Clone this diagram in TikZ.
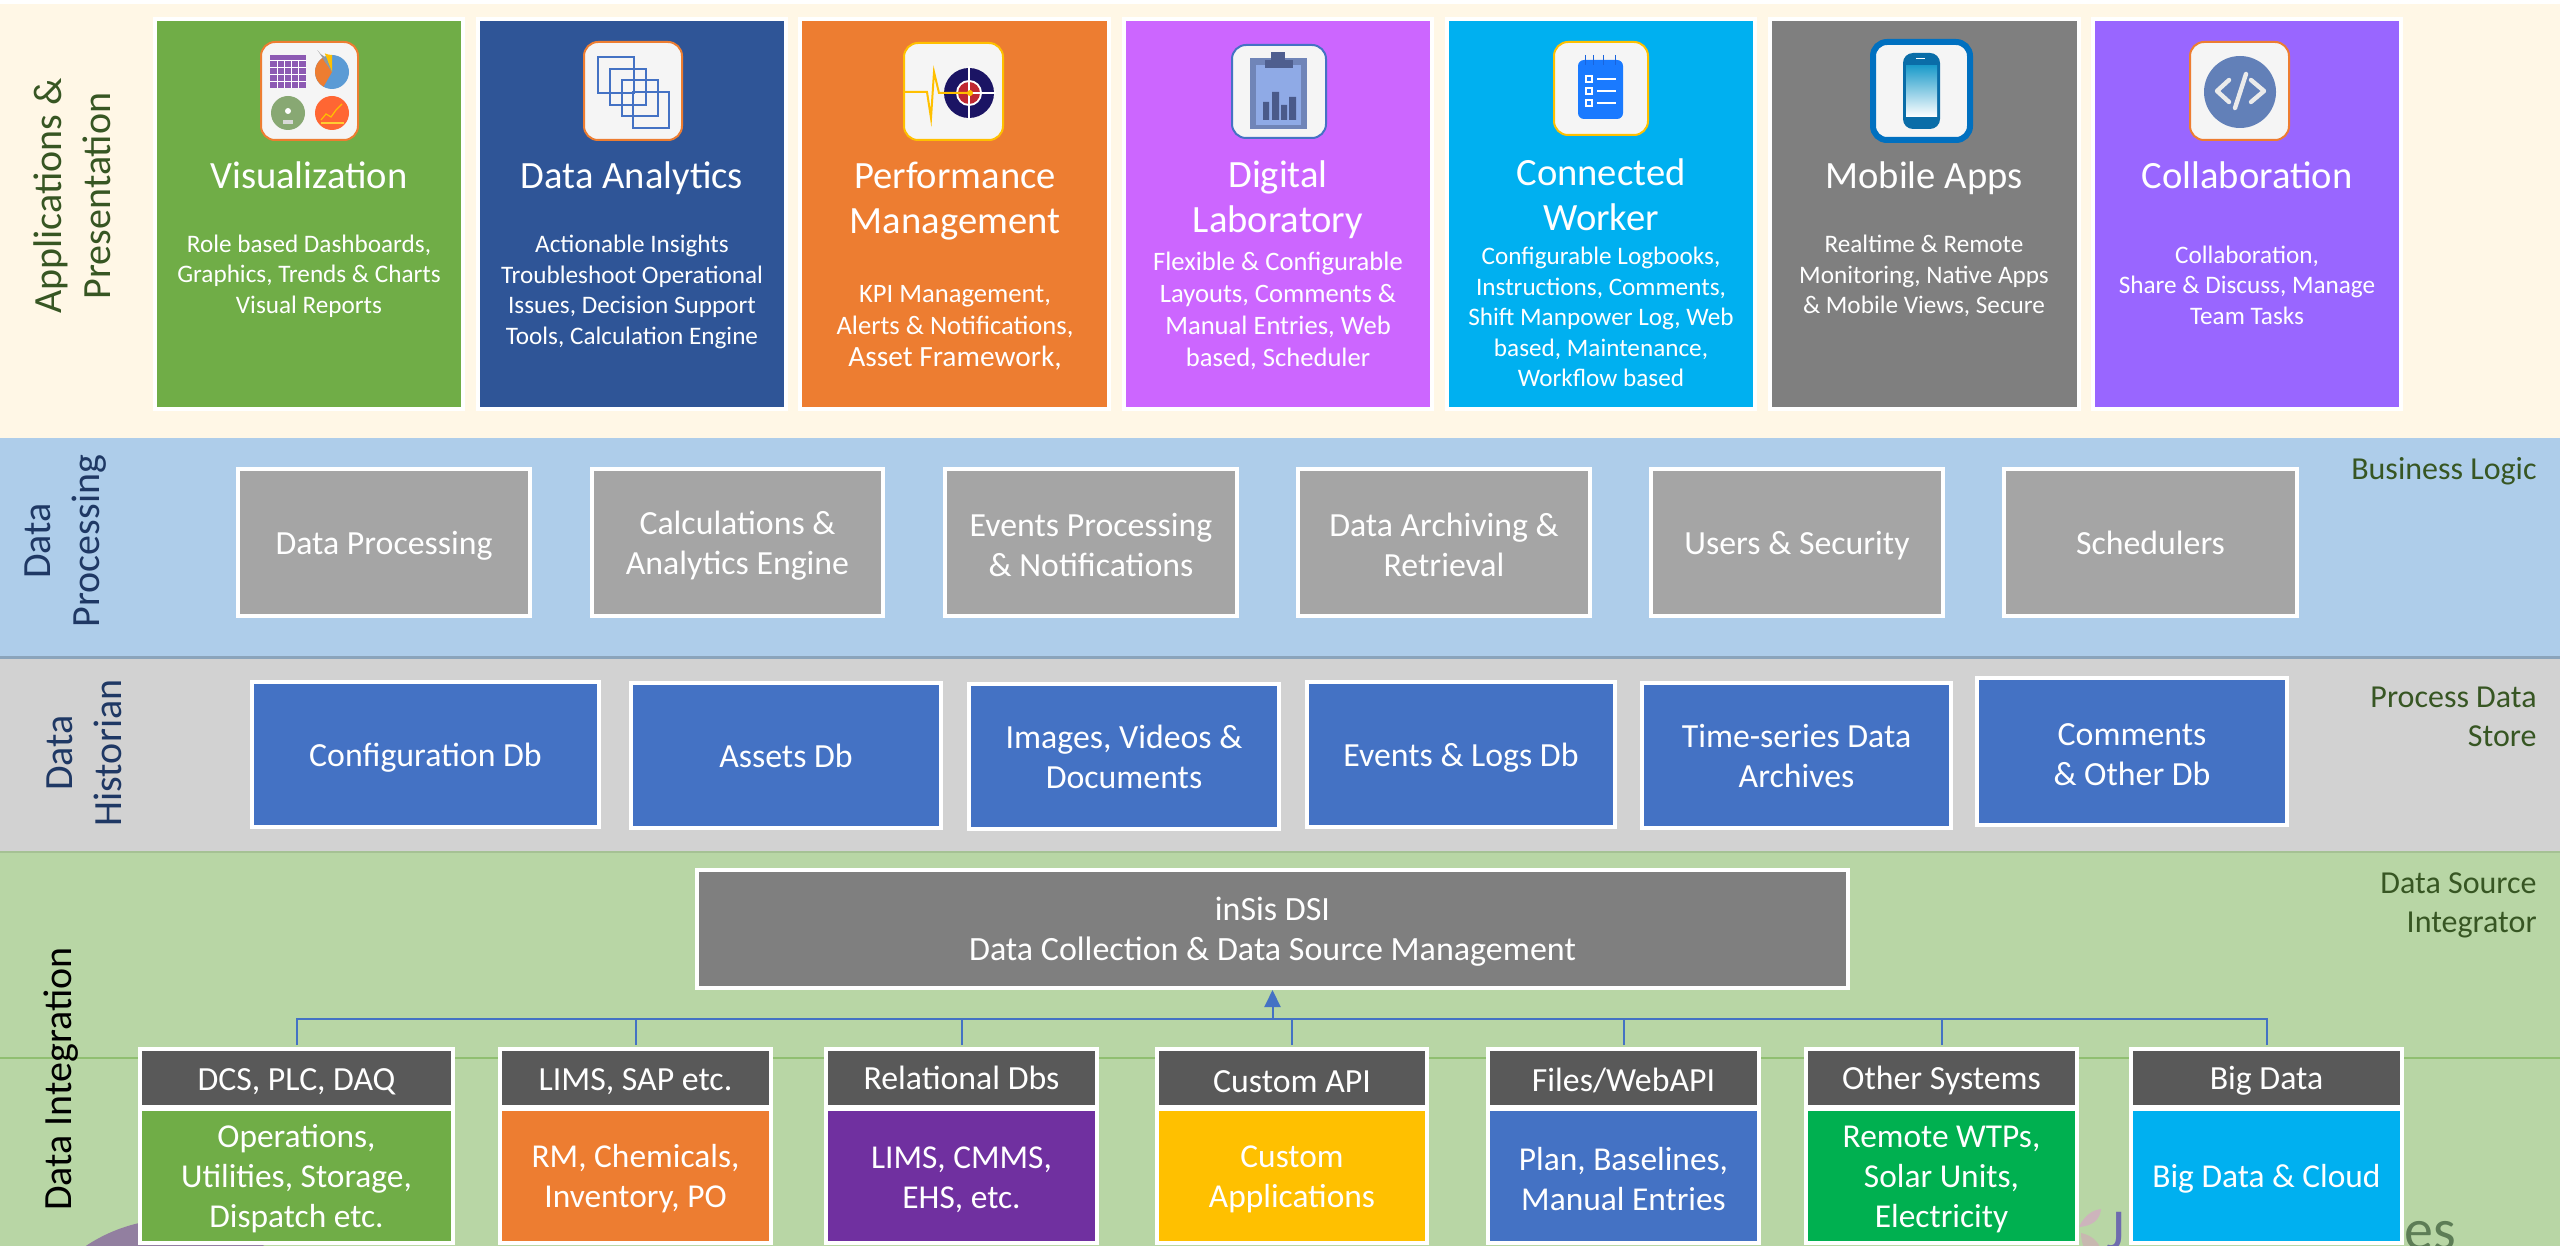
\documentclass[tikz,border=0pt]{standalone}
\usepackage{fontspec}
\setmainfont{Carlito}
\usetikzlibrary{arrows.meta}
\definecolor{cream}{HTML}{FFF7E6}
\definecolor{bandblue}{HTML}{AECDEA}
\definecolor{bandgray}{HTML}{D2D2D2}
\definecolor{bandgreen}{HTML}{B8D6A5}
\definecolor{hdrgray}{HTML}{595959}
\definecolor{procgray}{HTML}{A5A5A5}
\definecolor{dsigray}{HTML}{7F7F7F}
\definecolor{dbblue}{HTML}{4472C4}
\definecolor{lblgreen}{HTML}{375623}
\definecolor{lblnavy}{HTML}{1F3864}
\definecolor{cardA}{HTML}{70AD47}
\definecolor{cardB}{HTML}{2F5597}
\definecolor{cardC}{HTML}{ED7D31}
\definecolor{cardD}{HTML}{CC66FF}
\definecolor{cardE}{HTML}{00B0F0}
\definecolor{cardF}{HTML}{7F7F7F}
\definecolor{cardG}{HTML}{9966FF}
\definecolor{srcC}{HTML}{7030A0}
\definecolor{srcD}{HTML}{FFC000}
\definecolor{srcF}{HTML}{00B050}
\definecolor{navyring}{RGB}{27,20,100}
\definecolor{phoneblue}{RGB}{0,112,192}
\definecolor{blobpurple}{RGB}{146,127,160}
\definecolor{petalA}{RGB}{205,180,188}
\definecolor{petalB}{RGB}{200,184,176}
\definecolor{logoJc}{RGB}{110,107,174}
\definecolor{logoEc}{RGB}{93,125,86}
\definecolor{pieblue}{RGB}{91,155,213}
\definecolor{gaugegreen}{RGB}{136,168,115}
\definecolor{chartorange}{RGB}{255,102,51}
\definecolor{targetred}{RGB}{192,40,50}
\definecolor{clipback}{RGB}{112,133,184}
\definecolor{clippaper}{RGB}{143,170,230}
\definecolor{clipdark}{RGB}{79,95,143}
\definecolor{clipbars}{RGB}{74,90,138}
\definecolor{noteblue}{RGB}{26,122,255}
\definecolor{noteedge}{RGB}{26,100,220}
\definecolor{phonebody}{RGB}{10,109,168}
\definecolor{phonescreen}{RGB}{30,156,203}
\definecolor{codeblue}{RGB}{98,128,184}
\newcommand{\ebox}[7]{%
  \pgfmathsetmacro\cxx{(#3+#5)/2}\pgfmathsetmacro\cyy{(#4+#6)/2}%
  \pgfmathsetmacro\www{(#5-#3)/2}\pgfmathsetmacro\hhh{(#6-#4)/2}%
  \node[#2,minimum width=\www pt,minimum height=\hhh pt] (#1) at (\cxx,\cyy) {#7};}
\newcommand{\lowr}{\rule{0pt}{0.86em}}
\tikzset{
  x=0.5pt,y=-0.5pt,
  framed/.style={rectangle,draw=white,line width=2pt,inner sep=0pt,align=center,text=white,fill=#1},
  cardbox/.style={framed=#1},
  procbox/.style={framed=procgray,font=\fontsize{16.9}{20}\selectfont},
  dbbox/.style={framed=dbblue,font=\fontsize{16.9}{20}\selectfont},
  dsibox/.style={framed=dsigray,font=\fontsize{17}{20}\selectfont},
  hdrbox/.style={framed=hdrgray,font=\fontsize{16.9}{19}\selectfont},
  srcbox/.style={framed=#1,font=\fontsize{16.7}{20}\selectfont},
  cardtitle/.style={inner sep=0pt,align=center,text=white,font=\fontsize{19.3}{22.5}\selectfont},
  cardbody/.style={inner sep=0pt,align=center,text=white,font=\fontsize{12.6}{15.2}\selectfont},
  cardbodyb/.style={inner sep=0pt,align=center,text=white,font=\fontsize{13.3}{16.1}\selectfont},
  iconbox/.style={rectangle,rounded corners=7pt,draw=#1,line width=1pt,fill=white!96!black,inner sep=0pt},
  sidelabel/.style={rotate=90,inner sep=0pt,align=center,font=\fontsize{20}{24.5}\selectfont},
  rightlabel/.style={inner sep=0pt,align=right,anchor=east,text=lblgreen,font=\fontsize{16}{19.5}\selectfont},
  busline/.style={draw=dbblue,line width=1pt},
}
\begin{document}
\begin{tikzpicture}
\useasboundingbox (0,0) rectangle (2560,1246);
\begin{scope}
\clip (0,0) rectangle (2560,1246);
% bands
\fill[white] (0,0) rectangle (2560,4);
\fill[cream] (0,4) rectangle (2560,438);
\fill[bandblue] (0,438) rectangle (2560,657);
\fill[bandgray] (0,657) rectangle (2560,852);
\fill[bandgreen] (0,852) rectangle (2560,1246);
\fill[black!20!bandblue] (0,656) rectangle (2560,659);
\fill[black!10!bandgreen] (0,851) rectangle (2560,853);
\draw[color=cardA!55!bandgreen,line width=0.6pt] (0,1058) -- (2560,1058);
% faded background artwork
\fill[blobpurple] (175,1380) circle[radius=161];
\fill[petalA] (2079,1227) .. controls (2084,1216) and (2092,1210) .. (2101,1209) .. controls (2100,1220) and (2092,1226) .. (2079,1227) -- cycle;
\fill[petalB] (2081,1233) .. controls (2090,1235) and (2098,1240) .. (2101,1250) -- (2085,1250) .. controls (2082,1244) and (2081,1238) .. (2081,1233) -- cycle;
\node[anchor=base west,inner sep=0pt,text=logoJc,font=\fontsize{29}{34}\selectfont] (logoJ) at (2106,1249) {J};
\node[anchor=base west,inner sep=0pt,text=logoEc,font=\fontsize{29}{34}\selectfont] (logoes) at (2404,1249) {es};
\end{scope}

% application cards
\ebox{cA}{cardbox=cardA}{155}{19}{463}{409}{}
\ebox{cB}{cardbox=cardB}{478}{19}{786}{409}{}
\ebox{cC}{cardbox=cardC}{800}{19}{1109}{409}{}
\ebox{cD}{cardbox=cardD}{1124}{19}{1432}{409}{}
\ebox{cE}{cardbox=cardE}{1447}{19}{1755}{409}{}
\ebox{cF}{cardbox=cardF}{1770}{19}{2079}{409}{}
\ebox{cG}{cardbox=cardG}{2093}{19}{2401}{409}{}

% icons
\ebox{iA}{iconbox=cardC}{261}{42}{358}{140}{}
\ebox{iB}{iconbox=cardC}{584}{42}{682}{140}{}
\ebox{iC}{iconbox=srcD}{904}{43}{1003}{140}{}
\ebox{iD}{iconbox=dbblue}{1232}{45}{1326}{138}{}
\ebox{iE}{iconbox=srcD}{1554}{42}{1648}{135}{}
\ebox{iF}{iconbox=phoneblue,line width=3pt}{1873}{42}{1970}{140}{}
\ebox{iG}{iconbox=cardC}{2190}{42}{2289}{140}{}

% icon A
\fill[srcC!80!white] (270,55) rectangle (306,88);
\foreach \gx in {277,284,291,298} \draw[white,line width=0.3pt] (\gx,60) -- (\gx,88);
\foreach \gy in {60,67,74,81} \draw[white,line width=0.3pt] (270,\gy) -- (306,\gy);
\fill[pieblue] (332,72) circle[radius=17];
\fill[cardC] (332,72) -- (315,72) arc[start angle=180,end angle=120,radius=17] -- cycle;
\fill[cardC] (332,72) -- (315,72) arc[start angle=180,end angle=235,radius=17] -- cycle;
\fill[srcD] (332,72) -- (332,55) arc[start angle=90,end angle=115,radius=17] -- cycle;
\fill[cardF!80!white] (332,72) -- (325,57) arc[start angle=115,end angle=150,radius=17] -- cycle;
\fill[gaugegreen] (288,113) circle[radius=17];
\fill[white] (288,111) circle[radius=3];
\fill[white!85!black] (283,120) rectangle (293,124);
\fill[chartorange] (332,113) circle[radius=17];
\draw[srcD,line width=0.6pt] (321,120) -- (326,114) -- (331,117) -- (336,110) -- (342,104);
\fill[srcD!80!white] (321,122) rectangle (344,124);

% icon B
\foreach \xa/\ya in {598/57,610/69,622/80,633/92}
  \draw[dbblue,line width=0.8pt] (\xa,\ya) rectangle +(36,36);

% icon C
\fill[navyring] (969,93) circle[radius=25];
\fill[white] (969,93) circle[radius=13];
\fill[targetred] (969,93) circle[radius=11];
\draw[white,line width=0.6pt] (969,66) -- (969,120) (942,93) -- (996,93);
\draw[srcD,line width=1pt,line join=miter] (905,92) -- (927,92) -- (931,118) -- (934,72) -- (939,93) -- (970,93);
\fill[srcD] (970,93) circle[radius=3];

% icon D
\fill[clipback] (1250,58) rectangle (1307,129);
\fill[clippaper] (1256,65) rectangle (1301,125);
\fill[clipdark] (1265,60) rectangle (1293,68);
\fill[clipdark] (1271,52) rectangle (1285,61);
\fill[clipbars] (1263,102) rectangle (1269,120) (1272,92) rectangle (1279,120) (1281,105) rectangle (1287,120) (1289,97) rectangle (1296,120);

% icon E
\fill[noteblue,rounded corners=3pt] (1578,60) rectangle (1623,119);
\foreach \rx in {1585,1593,1603,1615} \draw[noteedge,line width=0.5pt] (\rx,55) -- (\rx,65);
\foreach \ry in {79,91,103} {
  \draw[white,line width=0.7pt] (1586,\ry-3) rectangle (1592,\ry+3);
  \draw[white,line width=1pt] (1597,\ry) -- (1616,\ry);
}

% icon F
\fill[phonebody,rounded corners=5pt] (1903,53) rectangle (1940,129);
\shade[top color=phonescreen,bottom color=white] (1906,66) rectangle (1937,117);
\draw[white,line width=0.5pt] (1916,59) -- (1925,59);

% icon G
\fill[codeblue] (2240,92) circle[radius=36];
\draw[white!92!black,line width=2.2pt,line cap=round,line join=round] (2229,80) -- (2217,91) -- (2229,102) (2251,80) -- (2264,91) -- (2251,102) (2246,74) -- (2235,108);

% card texts
\node[cardtitle] (tA) at (309,175) {Visualization};
\node[cardtitle] (tB) at (632,178) {Data Analytics};
\node[cardtitle] (tC) at (955,201) {Performance\\Management};
\node[cardtitle] (tD) at (1278,200) {Digital\\Laboratory};
\node[cardtitle] (tE) at (1601,195) {Connected\\Worker};
\node[cardtitle] (tF) at (1924,178) {Mobile Apps};
\node[cardtitle] (tG) at (2247,175) {Collaboration};
\node[cardbody] (bA) at (309,276) {Role based Dashboards,\\Graphics, Trends \& Charts\\Visual Reports};
\node[cardbody] (bB) at (632,292) {Actionable Insights\\Troubleshoot Operational\\Issues, Decision Support\\Tools, Calculation Engine};
\node[cardbodyb] (bC) at (955,328) {KPI Management,\\Alerts \& Notifications,\\{\fontsize{14.7}{16}\selectfont Asset Framework,}};
\node[cardbodyb] (bD) at (1278,311) {Flexible \& Configurable\\Layouts, Comments \&\\Manual Entries, Web\\based, Scheduler};
\node[cardbody] (bE) at (1601,317) {Configurable Logbooks,\\Instructions, Comments,\\Shift Manpower Log, Web\\based, Maintenance,\\Workflow based};
\node[cardbody] (bF) at (1924,276) {Realtime \& Remote\\Monitoring, Native Apps\\\& Mobile Views, Secure};
\node[cardbody] (bG) at (2247,285) {Collaboration,\\Share \& Discuss, Manage\\Team Tasks};

% side labels
\node[sidelabel,text=lblgreen] (lApp) at (72,196) {Applications \&\\Presentation};
\node[sidelabel,text=lblnavy] (lProc) at (66,541) {Data\\Processing};
\node[sidelabel,text=lblnavy] (lHist) at (84,753) {Data\\Historian};
\node[sidelabel,text=black] (lInt) at (61,1079) {Data Integration};

% right labels
\node[rightlabel] (rBL) at (2537,471) {Business Logic};
\node[rightlabel] (rPD) at (2537,717) {Process Data\\Store};
\node[rightlabel] (rDS) at (2537,905) {Data Source\\Integrator};

% processing
\ebox{p1}{procbox}{238}{469}{530}{616}{\lowr Data Processing}
\ebox{p2}{procbox}{592}{469}{883}{616}{\lowr Calculations \&\\Analytics Engine}
\ebox{p3}{procbox}{945}{469}{1237}{616}{\lowr Events Processing\\\& Notifications}
\ebox{p4}{procbox}{1298}{469}{1590}{616}{\lowr Data Archiving \&\\Retrieval}
\ebox{p5}{procbox}{1651}{469}{1943}{616}{\lowr Users \& Security}
\ebox{p6}{procbox}{2004}{469}{2297}{616}{Schedulers}

% historian
\ebox{d1}{dbbox}{252}{682}{599}{827}{\lowr Configuration Db}
\ebox{d2}{dbbox}{631}{683}{941}{828}{Assets Db}
\ebox{d3}{dbbox}{969}{684}{1279}{829}{Images, Videos \&\\Documents}
\ebox{d4}{dbbox}{1307}{682}{1615}{827}{\lowr Events \& Logs Db}
\ebox{d5}{dbbox}{1642}{683}{1951}{828}{Time-series Data\\Archives}
\ebox{d6}{dbbox}{1977}{678}{2287}{825}{\lowr Comments\\\& Other Db}

% integration
\ebox{dsi}{dsibox}{697}{870}{1848}{988}{\lowr inSis DSI\\Data Collection \& Data Source Management}
\ebox{h1}{hdrbox}{140}{1049}{453}{1107}{\lowr DCS, PLC, DAQ}
\ebox{h2}{hdrbox}{500}{1049}{771}{1107}{\lowr LIMS, SAP etc.}
\ebox{h3}{hdrbox}{826}{1049}{1097}{1107}{Relational Dbs}
\ebox{h4}{hdrbox}{1157}{1049}{1427}{1107}{\lowr Custom API}
\ebox{h5}{hdrbox}{1488}{1049}{1759}{1107}{\lowr Files/WebAPI}
\ebox{h6}{hdrbox}{1806}{1049}{2077}{1107}{\lowr Other Systems}
\ebox{h7}{hdrbox}{2131}{1049}{2402}{1107}{\lowr Big Data}
\ebox{s1}{srcbox=cardA}{140}{1109}{453}{1243}{\lowr Operations,\\Utilities, Storage,\\Dispatch etc.}
\ebox{s2}{srcbox=cardC}{500}{1109}{771}{1243}{\lowr RM, Chemicals,\\Inventory, PO}
\ebox{s3}{srcbox=srcC}{826}{1109}{1097}{1243}{\lowr LIMS, CMMS,\\EHS, etc.}
\ebox{s4}{srcbox=srcD}{1157}{1109}{1427}{1243}{\lowr Custom\\Applications}
\ebox{s5}{srcbox=dbblue}{1488}{1109}{1759}{1243}{\lowr Plan, Baselines,\\Manual Entries}
\ebox{s6}{srcbox=srcF}{1806}{1109}{2077}{1243}{\lowr Remote WTPs,\\Solar Units,\\Electricity}
\ebox{s7}{srcbox=cardE}{2131}{1109}{2402}{1243}{\lowr Big Data \& Cloud}

% connectors
\coordinate (bus) at (dsi.south |- 0,1019);
\foreach \src in {h1,h2,h3,h4,h5,h6,h7} \draw[busline] ([yshift=1pt]\src.north) |- (bus);
\draw[busline,-{Triangle[length=8.5pt,width=8pt]}] (bus) -- (dsi.south);
\end{tikzpicture}
\end{document}
